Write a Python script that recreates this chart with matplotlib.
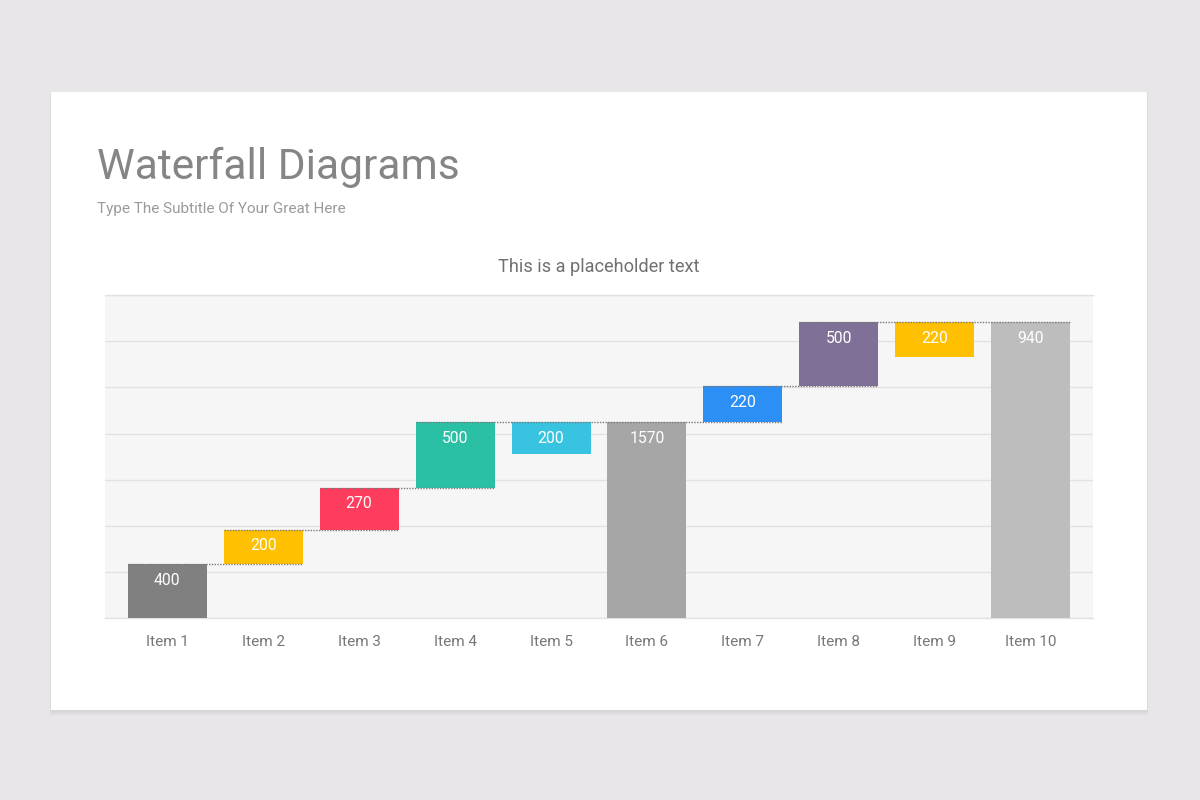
import matplotlib
matplotlib.use("Agg")
import matplotlib.pyplot as plt
from matplotlib.patches import Rectangle

# ---------------- data ----------------
categories = ["Item 1", "Item 2", "Item 3", "Item 4", "Item 5",
              "Item 6", "Item 7", "Item 8", "Item 9", "Item 10"]
# labels printed on the bars
bar_labels = [400, 200, 270, 500, 200, 1570, 220, 500, 220, 940]
# visual step sizes (gridline step = 100 units)
steps = [117, 74, 92, 141, 68, 0, 78, 139, 76, 0]
# kind of bar: 'up' adds to running total, 'hang' hangs below the level, 'total' from 0
kinds = ["up", "up", "up", "up", "hang", "total", "up", "up", "hang", "total"]
colors = ["#808080", "#FEC000", "#FE3C5E", "#29C0A6", "#38C4E0",
          "#A6A6A6", "#2C8FF6", "#7E7096", "#FEC000", "#BDBDBD"]
y_max = 700
grid_step = 100

# ---------------- figure ----------------
plt.rcParams["font.family"] = ["Roboto", "DejaVu Sans"]
fig = plt.figure(figsize=(12, 8), dpi=100)
fig.patch.set_facecolor("#E8E6E8")

# card shadow + card
for i, a in enumerate([0.03, 0.02, 0.012]):
    d = (3 - i) * 1.5
    fig.patches.append(Rectangle((51 / 1200 - d / 1200 * 0.3, (800 - 710 - d) / 800),
                                 (1096 + d * 0.6) / 1200, (618 + d) / 800,
                                 transform=fig.transFigure, facecolor="black",
                                 alpha=a, edgecolor="none", zorder=0))
fig.patches.append(Rectangle((51 / 1200, (800 - 710) / 800), 1096 / 1200, 618 / 800,
                             transform=fig.transFigure, facecolor="white",
                             edgecolor="none", zorder=1))

fig.text(97 / 1200, 1 - 178.5 / 800, "Waterfall Diagrams", fontsize=30.6,
         color="#858585", ha="left", va="baseline", zorder=5)
fig.text(97 / 1200, 1 - 213.5 / 800, "Type The Subtitle Of Your Great Here", fontsize=11,
         color="#9A9A9A", ha="left", va="baseline", zorder=5)
fig.text(598.5 / 1200, 1 - 272.5 / 800, "This is a placeholder text", fontsize=13.1,
         color="#707070", ha="center", va="baseline", zorder=5)

ax = fig.add_axes([105 / 1200, 1 - 618.2 / 800, 988 / 1200, 323.2 / 800], zorder=3)
ax.set_facecolor("#F6F6F6")

# compute bottoms / heights
bottoms, heights, levels = [], [], []
level = 0
for s, k in zip(steps, kinds):
    if k == "up":
        bottoms.append(level)
        heights.append(s)
        level += s
    elif k == "hang":
        bottoms.append(level - s)
        heights.append(s)
    else:
        bottoms.append(0)
        heights.append(level)
    levels.append(level)

x = list(range(len(categories)))
w = 0.823
ax.bar(x, heights, bottom=bottoms, width=w, color=colors, edgecolor="none", zorder=3)

# dotted connectors
up_idx = [i for i, k in enumerate(kinds) if k == "up"]
for n, i in enumerate(up_idx):
    j = up_idx[n + 1] if n + 1 < len(up_idx) else len(categories) - 1
    ax.plot([i - w / 2, j + w / 2], [levels[i], levels[i]], linestyle=(0, (1, 1)),
            color="#7A7A7A", linewidth=1.0, zorder=4)

# labels near top of bars
for i, lab in enumerate(bar_labels):
    top = bottoms[i] + heights[i]
    ax.annotate(str(lab), (x[i], top), xytext=(0, -11.5), textcoords="offset points",
                ha="center", va="center", color="white", fontsize=11.3, zorder=5)

ax.set_xlim(-0.648, 9.648)
ax.set_ylim(0, y_max)
ax.set_yticks(range(0, y_max + 1, grid_step))
ax.set_yticklabels([])
ax.yaxis.grid(True, color="#E2E2E2", linewidth=1.0, zorder=0)
ax.set_axisbelow(True)
ax.tick_params(axis="y", length=0)
ax.set_xticks(x)
ax.set_xticklabels(categories, fontsize=11, color="#777777")
ax.tick_params(axis="x", length=0, pad=12)
for s in ["left", "right"]:
    ax.spines[s].set_visible(False)
for s in ["top", "bottom"]:
    ax.spines[s].set_color("#E2E2E2")
    ax.spines[s].set_linewidth(1.0)

fig.savefig("out.png", dpi=100, facecolor=fig.get_facecolor())
